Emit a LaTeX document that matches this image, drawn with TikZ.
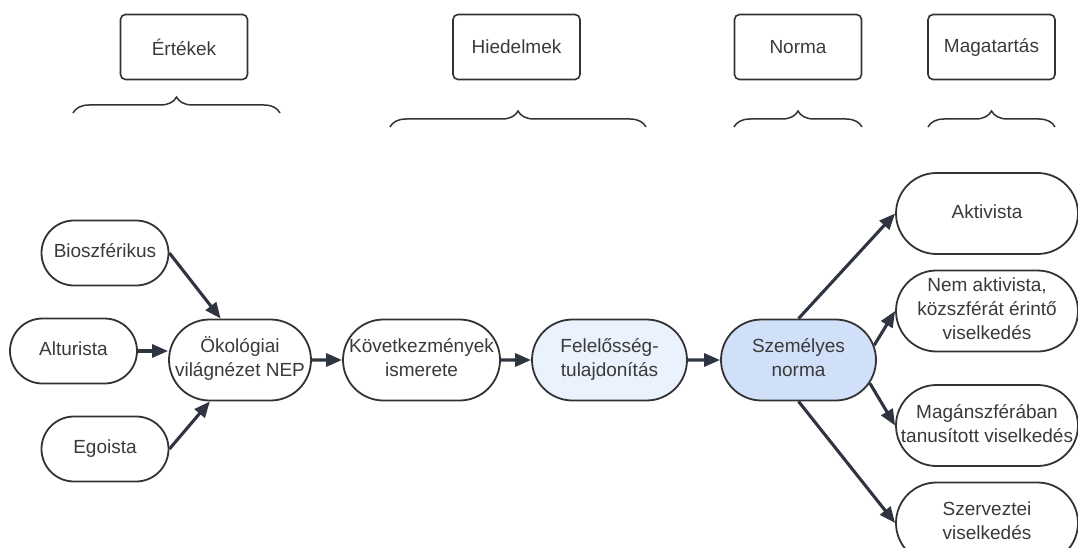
\documentclass[tikz,border=0pt]{standalone}
\usepackage{fontspec}
\setmainfont{Liberation Sans}
\usetikzlibrary{shapes.misc,arrows.meta,decorations.pathreplacing}
\definecolor{ink}{HTML}{333333}
\definecolor{txt}{HTML}{3A3A3A}
\definecolor{arrowc}{HTML}{2E3440}
\definecolor{paleblue}{HTML}{EAF2FD}
\definecolor{midblue}{HTML}{CFE0F8}
% centred multi-line label of zero width, so the outline size is set by the style
\newcommand{\pilltext}[1]{\makebox[0pt]{\begin{tabular}{@{}c@{}}#1\end{tabular}}}
\begin{document}
\begin{tikzpicture}[x=1pt,y=-1pt,
  every node/.style={font=\fontsize{19}{24}\selectfont, text=txt},
  header/.style={draw=ink, line width=1.6pt, rounded corners=5pt,
    minimum width=127pt, minimum height=65pt, inner sep=0pt},
  pill/.style={rounded rectangle, draw=ink, line width=1.8pt, fill=white,
    minimum width=127pt, minimum height=65pt, inner sep=0pt},
  wide/.style={minimum height=81pt},
  flow/.style={draw=arrowc, line width=3.1pt, -{Triangle[length=16pt,width=13pt]}},
  bracket/.style={draw=ink, line width=1.5pt, decorate,
    decoration={brace, amplitude=16pt}}
]
\useasboundingbox (0,0) rectangle (1078,548);

% column headers
\node[header] (hval)  at (184,47)   {Értékek};
\node[header] (hbel)  at (516.5,47) {Hiedelmek};
\node[header] (hnorm) at (798,47)   {Norma};
\node[header] (hbeh)  at (991.5,47) {Magatartás};

% braces under the headers
\draw[bracket] (73,113)  -- (280,113);
\draw[bracket] (390,127) -- (646,127);
\draw[bracket] (734,127) -- (862,127);
\draw[bracket] (928,127) -- (1055,127);

% value orientations
\node[pill] (bio) at (105,253)  {\pilltext{Bioszférikus}};
\node[pill] (alt) at (73.5,351) {\pilltext{Alturista}};
\node[pill] (ego) at (105,449)  {\pilltext{Egoista}};

% causal chain
\node[pill,wide,minimum width=142pt] (nep) at (240,360)
  {\pilltext{Ökológiai\\világnézet NEP}};
\node[pill,wide,minimum width=157pt] (kov) at (421.5,360)
  {\pilltext{Következmények\\ismerete}};
\node[pill,wide,minimum width=155pt,fill=paleblue] (fel) at (609.5,360)
  {\pilltext{Felelősség-\\tulajdonítás}};
\node[pill,wide,minimum width=155pt,fill=midblue] (sz) at (798.5,360)
  {\pilltext{Személyes\\norma}};

% behaviour types
\node[pill,wide,minimum width=182pt] (akt)  at (987,213.5) {\pilltext{Aktivista}};
\node[pill,wide,minimum width=182pt] (nem)  at (987,311)
  {\pilltext{Nem aktivista,\\közszférát érintő\\viselkedés}};
\node[pill,wide,minimum width=182pt] (mag)  at (987,425.5)
  {\pilltext{Magánszférában\\tanusított viselkedés}};
\node[pill,wide,minimum width=182pt] (szer) at (987,523)
  {\pilltext{Szerveztei\\viselkedés}};

% connectors
\draw[flow] (bio.east) -- (nep.115);
\draw[flow] (alt.east) -- (alt.east -| nep.west);
\draw[flow] (ego.east) -- (nep.234);
\draw[flow] (nep) -- (kov);
\draw[flow] (kov) -- (fel);
\draw[flow] (fel) -- (sz);
\draw[flow] (sz.north) -- (akt.west);
\draw[flow] (sz.11)    -- (nem.west);
\draw[flow] (sz.-18)   -- (mag.west);
\draw[flow] (sz.south) -- (szer.west);
\end{tikzpicture}
\end{document}
